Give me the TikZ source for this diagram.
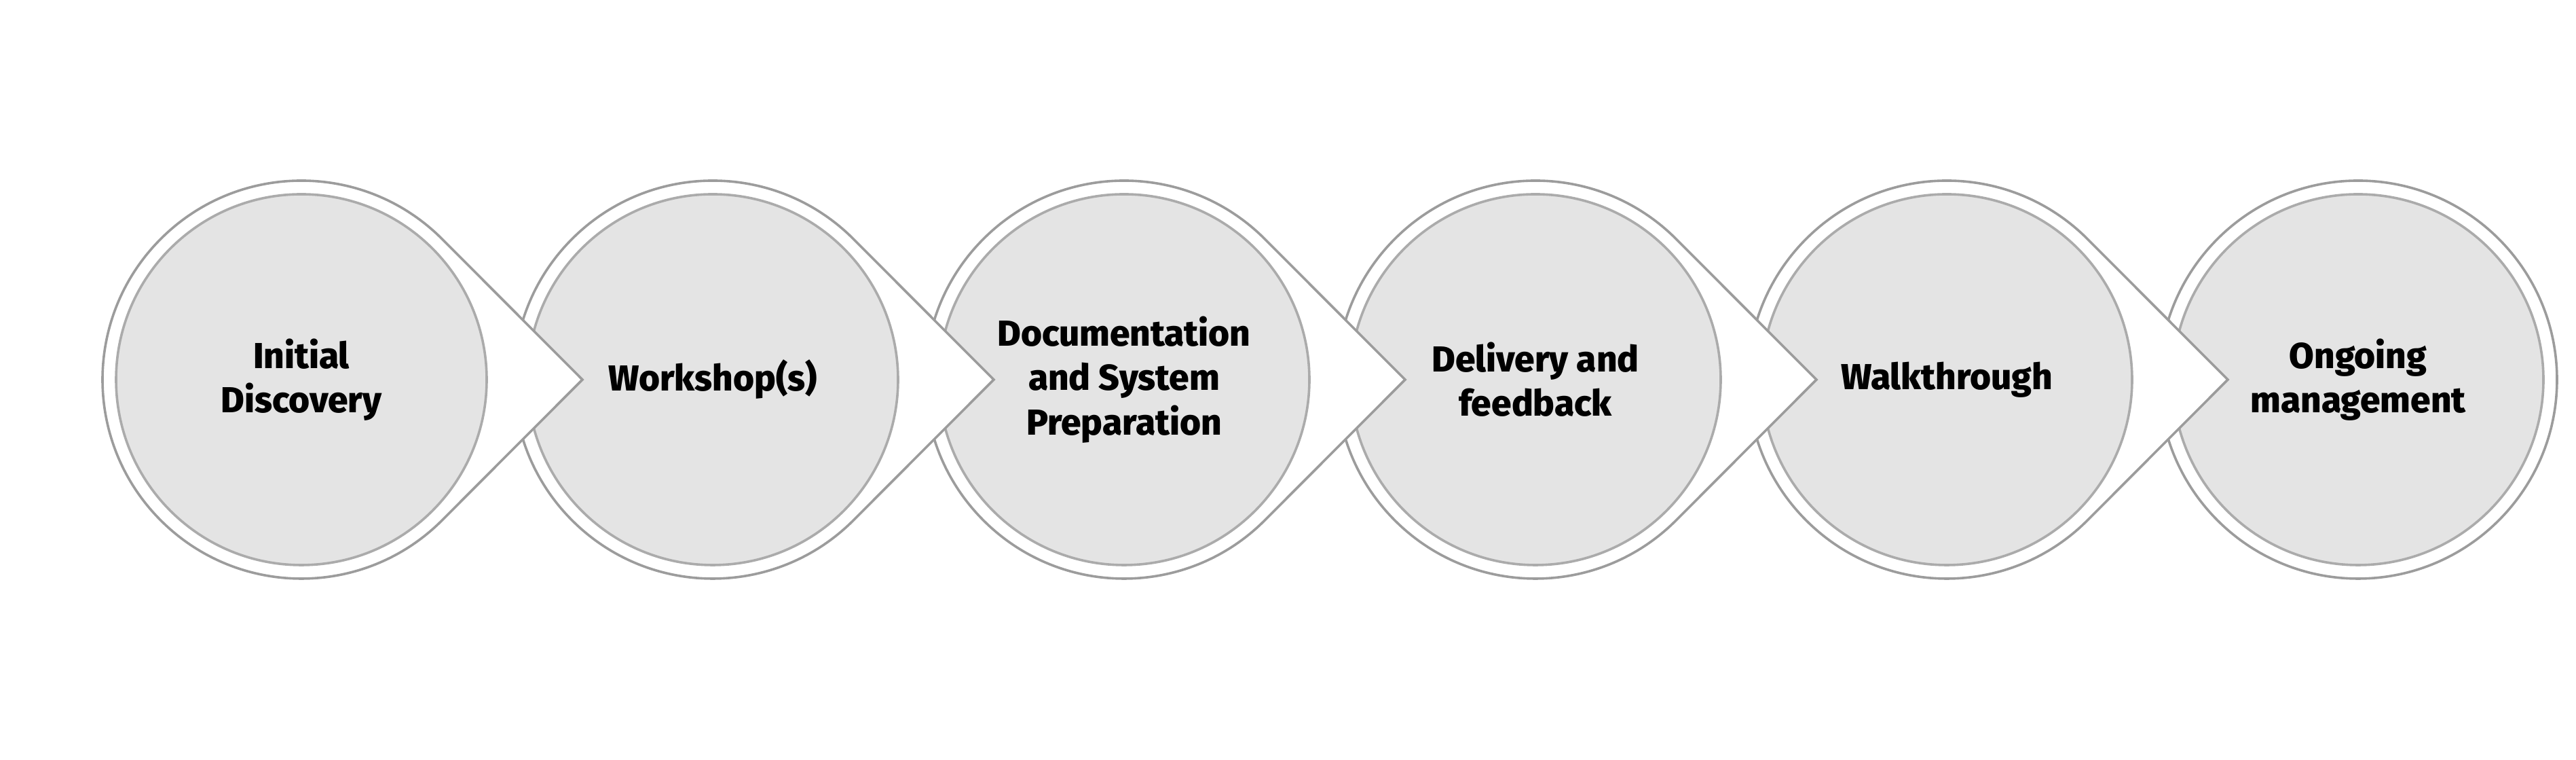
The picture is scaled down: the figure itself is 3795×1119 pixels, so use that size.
\documentclass[tikz,border=0pt]{standalone}
\usepackage{fontspec}
\setmainfont{Fira Sans}[BoldFont={Fira Sans ExtraBold}]
\definecolor{ringgray}{HTML}{9C9C9C}
\definecolor{discgray}{HTML}{E4E4E4}
\tikzset{
  drop/.style={draw=ringgray,fill=white,line width=0.9pt},
  stage/.style={circle,draw=ringgray!85,fill=discgray,line width=0.9pt,
    minimum size=136.5pt,inner sep=0pt,align=center,
    font=\fontsize{13.3}{16.3}\selectfont\bfseries}
}
\begin{document}
\begin{tikzpicture}[x=0.25pt,y=0.25pt]
  \useasboundingbox (0,0) rectangle (3795,1119);
  % last stage: plain ring
  \draw[drop] (3474,560) circle (293);
  \node[stage] (6) at (3474,560) {Ongoing\\management};
  \draw[drop] (2868,560) ++(45:293) arc[start angle=45,end angle=315,radius=293] -- (3282,560) -- cycle;
  \node[stage] (5) at (2868,560) {Walkthrough};
  \draw[drop] (2262,560) ++(45:293) arc[start angle=45,end angle=315,radius=293] -- (2676,560) -- cycle;
  \node[stage] (4) at (2262,560) {Delivery and\\feedback};
  \draw[drop] (1656,560) ++(45:293) arc[start angle=45,end angle=315,radius=293] -- (2070,560) -- cycle;
  \node[stage] (3) at (1656,560) {Documentation\\and System\\Preparation};
  \draw[drop] (1050,560) ++(45:293) arc[start angle=45,end angle=315,radius=293] -- (1464,560) -- cycle;
  \node[stage] (2) at (1050,560) {Workshop(s)};
  \draw[drop] (444,560) ++(45:293) arc[start angle=45,end angle=315,radius=293] -- (858,560) -- cycle;
  \node[stage] (1) at (444,560) {Initial\\Discovery};
\end{tikzpicture}
\end{document}
